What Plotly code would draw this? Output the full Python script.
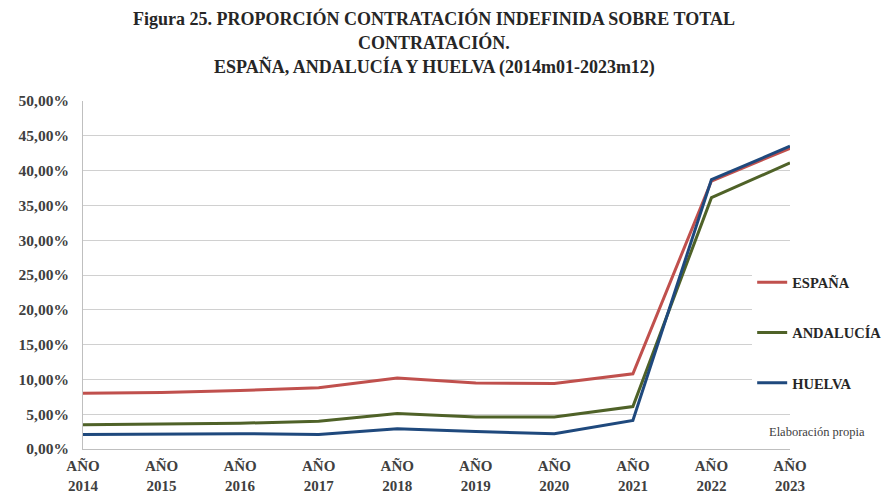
import plotly.graph_objects as go

years = ["2014", "2015", "2016", "2017", "2018", "2019", "2020", "2021", "2022", "2023"]
tick_labels = ["AÑO<br>" + y for y in years]
espana = [8.0, 8.1, 8.4, 8.8, 10.2, 9.5, 9.4, 10.8, 38.5, 43.2]
andalucia = [3.5, 3.6, 3.7, 4.0, 5.1, 4.6, 4.6, 6.1, 36.1, 41.1]
huelva = [2.1, 2.2, 2.2, 2.1, 2.9, 2.5, 2.2, 4.1, 38.7, 43.5]
y_ticks = [0, 5, 10, 15, 20, 25, 30, 35, 40, 45, 50]
y_tick_labels = ["0,00%", "5,00%", "10,00%", "15,00%", "20,00%", "25,00%",
                 "30,00%", "35,00%", "40,00%", "45,00%", "50,00%"]

x = list(range(len(years)))
serif = "Liberation Serif"

fig = go.Figure()
series = [("ESPAÑA", espana, "#c0504d"), ("ANDALUCÍA", andalucia, "#4f6228"), ("HUELVA", huelva, "#1f497d")]
for name, vals, col in series:
    fig.add_trace(go.Scatter(x=x, y=vals, name=name, mode="lines", legendgroup=name,
                             line=dict(color=col, width=3)))

fig.update_layout(
    width=887, height=493,
    margin=dict(l=83, r=97, t=101, b=44, autoexpand=False),
    paper_bgcolor="white", plot_bgcolor="white",
    showlegend=True,
    legend=dict(x=0.848, y=0.46, xref="container", yref="container", xanchor="left", yanchor="top",
                bgcolor="rgba(255,255,255,1)",
                tracegroupgap=28.5, font=dict(family=serif, size=14.5, color="#262626", weight="bold")),
    xaxis=dict(range=[0, 9], tickvals=x, ticktext=tick_labels, showgrid=False, automargin=False,
               showline=True, linecolor="#bfbfbf", ticks="", zeroline=False, ticklabelstandoff=3,
               tickfont=dict(family=serif, size=15, color="#404040", weight="bold")),
    yaxis=dict(range=[0, 50], tickvals=y_ticks, ticktext=y_tick_labels, automargin=False,
               showgrid=True, gridcolor="#d0d0d0", gridwidth=1, showline=True, linecolor="#bfbfbf",
               zeroline=False, ticks="", ticklabelstandoff=10,
               tickfont=dict(family=serif, size=15.5, color="#404040", weight="bold")),
)
title_lines = ["Figura 25. PROPORCIÓN CONTRATACIÓN INDEFINIDA SOBRE TOTAL",
               "CONTRATACIÓN.",
               "ESPAÑA, ANDALUCÍA Y HUELVA (2014m01-2023m12)"]
for i, line in enumerate(title_lines):
    fig.add_annotation(text=line, x=0.497, y=1.0, xref="paper", yref="paper",
                       xanchor="center", yanchor="middle", yshift=101 - 18 - 24.5 * i,
                       showarrow=False, font=dict(family=serif, size=18, color="#262626", weight="bold"))
fig.add_annotation(text="Elaboración propia", x=1.038, y=0.05, xref="paper", yref="paper",
                   xanchor="center", yanchor="middle", showarrow=False,
                   font=dict(family=serif, size=12.5, color="#404040"))

fig.write_html("out.html", config={"displayModeBar": False},
               post_script="document.body.style.margin='0px';")
